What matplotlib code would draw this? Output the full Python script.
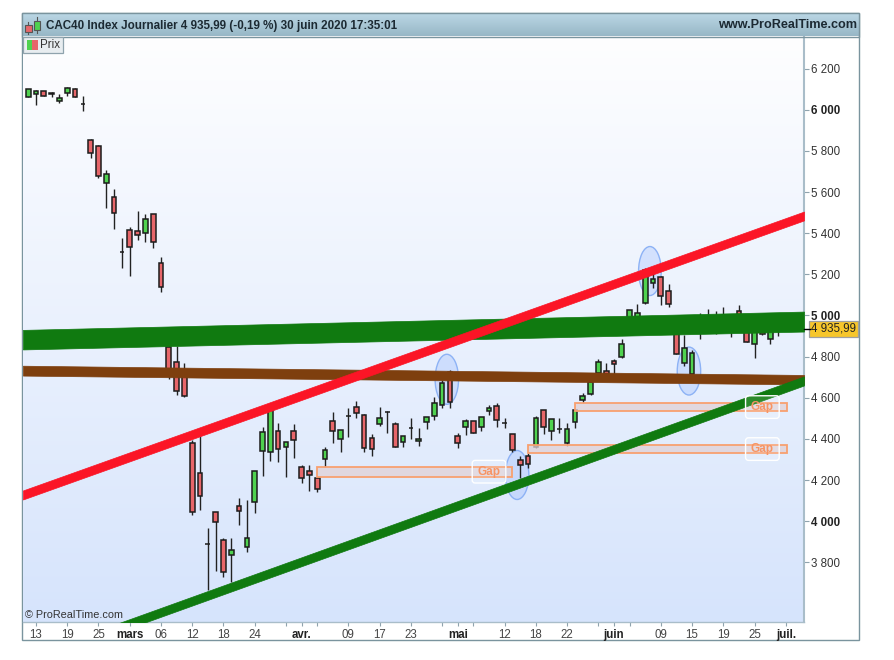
import numpy as np
import matplotlib
matplotlib.use("Agg")
import matplotlib.pyplot as plt
from matplotlib.colors import LinearSegmentedColormap
from matplotlib.patches import Ellipse, Rectangle

plt.rcParams['font.family'] = ['Liberation Sans', 'DejaVu Sans']

# daily candles, 12 feb -> 30 june 2020
opens = [6060, 6076, 6092, 6080, 6041, 6080, 6102, 6029, 5853, 5824, 5642, 5574, 5308, 5415, 5411, 5399, 5492, 5254,
         4848, 4774, 4711, 4379, 4236, 3888, 4047, 3909, 3838, 4073, 3874, 4092, 4342, 4337, 4439, 4362, 4439, 4262,
         4246, 4210, 4301, 4489, 4398, 4513, 4557, 4517, 4403, 4474, 4531, 4471, 4384, 4455, 4389, 4484, 4510, 4565,
         4725, 4414, 4458, 4486, 4458, 4537, 4562, 4476, 4423, 4296, 4316, 4361, 4541, 4439, 4447, 4380, 4484, 4591,
         4619, 4720, 4732, 4780, 4800, 4968, 4968, 5059, 5159, 5188, 5120, 4929, 4771, 4716, 4929, 4968, 4929, 4939,
         4968, 5020, 4939, 4860, 4939, 4886, 4949]
closes = [6102, 6091, 6067, 6077, 6055, 6107, 6060, 6029, 5791, 5678, 5686, 5497, 5308, 5334, 5393, 5467, 5359, 5140,
          4735, 4635, 4609, 4047, 4123, 3888, 3995, 3755, 3859, 4052, 3920, 4246, 4434, 4541, 4351, 4384, 4397, 4209,
          4223, 4158, 4346, 4437, 4444, 4513, 4525, 4358, 4353, 4500, 4531, 4361, 4414, 4455, 4398, 4505, 4573, 4673,
          4581, 4382, 4486, 4431, 4505, 4552, 4492, 4476, 4345, 4275, 4280, 4500, 4458, 4499, 4447, 4450, 4541, 4607,
          4678, 4776, 4716, 4763, 4860, 5025, 5014, 5221, 5176, 5095, 5054, 4814, 4841, 4816, 4968, 4939, 4968, 4978,
          4929, 4954, 4870, 4929, 4910, 4929, 4935.99]
highs = [6102, 6096, 6093, 6087, 6076, 6109, 6105, 6068, 5858, 5828, 5707, 5615, 5375, 5431, 5508, 5492, 5492, 5283,
         4857, 4852, 4771, 4395, 4414, 3966, 4047, 3917, 3917, 4115, 4103, 4246, 4457, 4551, 4476, 4384, 4473, 4272,
         4274, 4210, 4361, 4533, 4444, 4549, 4583, 4520, 4424, 4554, 4536, 4481, 4414, 4500, 4452, 4505, 4603, 4687,
         4735, 4431, 4496, 4486, 4505, 4565, 4573, 4500, 4423, 4317, 4333, 4512, 4541, 4499, 4500, 4479, 4541, 4622,
         4696, 4787, 4771, 4787, 4884, 5029, 5056, 5231, 5205, 5192, 5152, 4939, 4905, 4832, 5011, 5030, 5022, 5040,
         4988, 5050, 4954, 4954, 4954, 4968, 4978]
lows = [6060, 6023, 6066, 6060, 6034, 6068, 6060, 5994, 5764, 5667, 5524, 5419, 5229, 5193, 5367, 5356, 5326, 5116,
        4691, 4614, 4606, 4031, 4055, 3666, 3760, 3731, 3706, 3982, 3852, 4039, 4222, 4294, 4290, 4217, 4309, 4186,
        4146, 4141, 4265, 4382, 4335, 4411, 4500, 4335, 4319, 4463, 4428, 4361, 4360, 4398, 4366, 4447, 4492, 4552,
        4552, 4358, 4419, 4428, 4440, 4517, 4460, 4452, 4338, 4209, 4257, 4355, 4423, 4395, 4431, 4367, 4452, 4573,
        4615, 4711, 4711, 4711, 4794, 4968, 4963, 5056, 5132, 5051, 5043, 4813, 4756, 4716, 4884, 4929, 4909, 4929,
        4897, 4944, 4870, 4792, 4905, 4863, 4900]

# x ticks (candle number -> label)
tick_pos = [1, 5, 9, 13, 17, 21, 25, 29, 33, 35, 37, 41, 45, 49, 53, 55, 57, 61, 65, 69, 73, 75, 77, 81, 85, 89, 93, 97]
tick_txt = ['13', '19', '25', 'mars', '06', '12', '18', '24', '', 'avr.', '', '09', '17', '23', '', 'mai', '', '12',
            '18', '22', '', 'juin', '', '09', '15', '19', '25', 'juil.']
months = ['mars', 'avr.', 'mai', 'juin', 'juil.']
price_ticks = [6200, 6000, 5800, 5600, 5400, 5200, 5000, 4800, 4600, 4400, 4200, 4000, 3800]

# trend bands: [left, right] top and bottom prices
band_x = [-0.67, 99.33]
green_top = [4930, 5019]
green_bot = [4835, 4922]
brown_top = [4756, 4711]
brown_bot = [4708, 4665]
red_top = [4150, 5505]
red_bot = [4106, 5462]
low_top = [3338, 4704]
low_bot = [3295, 4660]

# gaps: start, end, low, high, label position
gap_start = [37, 70, 64]
gap_end = [62, 97.1, 97.1]
gap_low = [4217, 4537, 4333]
gap_high = [4265, 4573, 4369]
gap_label_x = [59, 94, 94]

# blue ellipses: candle number, price, widths
ell_x = [53.6, 62.6, 79.6, 84.6]
ell_y = [4690, 4225, 5216, 4730]
ell_w = [3.0, 3.0, 2.9, 3.0]
ell_h = [243, 238, 238, 233]

RED = '#E7666A'
GREEN = '#4FD24F'
BLUE_EDGE = '#8DB2F5'
ORANGE = '#F8A070'

fig = plt.figure(figsize=(8.95, 6.6), dpi=100, facecolor='white')

# chrome in pixel coordinates
bg = fig.add_axes([0, 0, 1, 1], zorder=0)
bg.set_xlim(0, 895)
bg.set_ylim(660, 0)
bg.axis('off')
bg.add_patch(Rectangle((22, 13), 837, 627, fc='white', ec='#7A949E', lw=1.0))

ax = fig.add_axes([23 / 895, 38 / 660, 781 / 895, 586 / 660], zorder=1)
ax.set_facecolor('none')

cmap = LinearSegmentedColormap.from_list('fond', ['#FEFEFF', '#D6E4FC'])
ax.imshow(np.linspace(0, 1, 256).reshape(-1, 1), cmap=cmap, aspect='auto', extent=(0, 1, 0, 1),
          transform=ax.transAxes, zorder=0)

x = np.arange(len(opens))
o = np.array(opens)
c = np.array(closes)
colors = [GREEN if c[i] > o[i] else RED for i in x]

for i in range(len(ell_x)):
    ax.add_patch(Ellipse((ell_x[i], ell_y[i]), ell_w[i], ell_h[i], fc=(0.45, 0.62, 1, 0.22), ec=BLUE_EDGE, lw=1.0,
                         zorder=1))

ax.vlines(x, lows, highs, color='#222222', lw=1.0, zorder=2)
ax.bar(x, np.abs(c - o), bottom=np.minimum(o, c), width=0.6, color=colors, edgecolor='#1c1c1c', lw=1.1, zorder=3)

for i in range(3):
    ax.add_patch(Rectangle((gap_start[i], gap_low[i]), gap_end[i] - gap_start[i], gap_high[i] - gap_low[i],
                           fc=(0.88, 0.82, 0.84, 0.75), ec=ORANGE, lw=1.3, zorder=4))
    ax.text(gap_label_x[i], (gap_low[i] + gap_high[i]) / 2, 'Gap', color='#F79464', fontsize=8.5, fontweight='bold',
            ha='center', va='center', zorder=8,
            bbox=dict(boxstyle='round,pad=0.45,rounding_size=0.25', fc=(1, 1, 1, 0.12), ec='white', lw=1.0))

ax.fill_between(band_x, green_bot, green_top, color='#107A10', lw=0.5, zorder=5)
ax.fill_between(band_x, brown_bot, brown_top, color='#7E3F0E', lw=0.5, zorder=5)
ax.fill_between(band_x, low_bot, low_top, color='#107A10', lw=0.5, zorder=6)
ax.fill_between(band_x, red_bot, red_top, color='#FB1526', lw=0.5, zorder=6)

ax.set_xlim(-0.666, 99.33)
ax.set_ylim(3510.7, 6358)
ax.yaxis.tick_right()
ax.set_yticks(price_ticks)
ax.set_yticklabels([f'{p // 1000} {p % 1000:03d}' for p in price_ticks])
ax.tick_params(axis='y', length=3.6, width=0.8, color='#8FA3AD', pad=1.5, labelsize=8.3, labelcolor='#333333')
for lab, p in zip(ax.get_yticklabels(), price_ticks):
    if p % 1000 == 0:
        lab.set_fontweight('bold')
        lab.set_color('#222222')

ax.set_xticks(tick_pos)
ax.set_xticklabels(tick_txt)
ax.tick_params(axis='x', length=3, width=0.8, color='#8FA3AD', pad=2, labelsize=8.3, labelcolor='#444444')
for lab, t in zip(ax.get_xticklabels(), tick_txt):
    if t in months:
        lab.set_fontweight('bold')
        lab.set_color('#222222')

for s in ['top', 'left']:
    ax.spines[s].set_visible(False)
ax.spines['right'].set_color('#A9BDC9')
ax.spines['right'].set_linewidth(1.5)
ax.spines['bottom'].set_color('#A9BDC9')
ax.spines['bottom'].set_linewidth(1.0)

ax.text(25, 615, '© ProRealTime.com', fontsize=7.8, color='#333333', va='center', zorder=9,
        transform=bg.transData)

# current price tag
ax.text(1.0095, closes[-1], '4 935,99', transform=ax.get_yaxis_transform(), fontsize=8.3, color='#222222',
        va='center', ha='left', clip_on=False, zorder=9,
        bbox=dict(boxstyle='square,pad=0.17', fc='#F7C62B', ec='#A0A0A0', lw=0.9))
ax.plot([1, 1.0075], [closes[-1], closes[-1]], transform=ax.get_yaxis_transform(), color='black', lw=1,
        clip_on=False, zorder=9)

# header, on top of everything
top = fig.add_axes([0, 0, 1, 1], zorder=2)
top.set_xlim(0, 895)
top.set_ylim(660, 0)
top.axis('off')
hcmap = LinearSegmentedColormap.from_list('tete', ['#BAD6E4', '#97B7C6'])
top.imshow(np.linspace(0, 1, 64).reshape(-1, 1), cmap=hcmap, aspect='auto', extent=(23, 859, 36, 14), zorder=1)
top.set_xlim(0, 895)
top.set_ylim(660, 0)
top.add_patch(Rectangle((22, 13), 837, 23.5, fc='none', ec='#7A949E', lw=1.0, zorder=2))
top.plot([28.5, 28.5], [22, 34], color='#555555', lw=0.8, zorder=2)
top.plot([37.5, 37.5], [17, 33], color='#555555', lw=0.8, zorder=2)
top.add_patch(Rectangle((25.5, 25), 6.5, 7, fc=RED, ec='#555555', lw=0.8, zorder=3))
top.add_patch(Rectangle((34.5, 20.5), 6, 9.5, fc=GREEN, ec='#555555', lw=0.8, zorder=3))
top.text(46, 25.5, 'CAC40 Index Journalier 4 935,99 (-0,19 %) 30 juin 2020 17:35:01', fontsize=8.33,
         fontweight='bold', color='#1c2a33', va='center', zorder=3)
top.text(857, 25.5, 'www.ProRealTime.com', fontsize=9.05, fontweight='bold', color='#1c2a33', va='center',
         ha='right', zorder=3)

# legend tab
top.add_patch(Rectangle((23, 36.5), 40, 16.5, fc='#E8EDF0', ec='#8FA3AD', lw=0.9, zorder=2))
top.add_patch(Rectangle((27, 39.5), 5.5, 10, fc=GREEN, ec='none', zorder=3))
top.add_patch(Rectangle((32.5, 39.5), 5.5, 10, fc=RED, ec='none', zorder=3))
top.text(40, 45, 'Prix', fontsize=8.3, color='#333333', va='center', zorder=3)

fig.savefig('out.png', dpi=100)
